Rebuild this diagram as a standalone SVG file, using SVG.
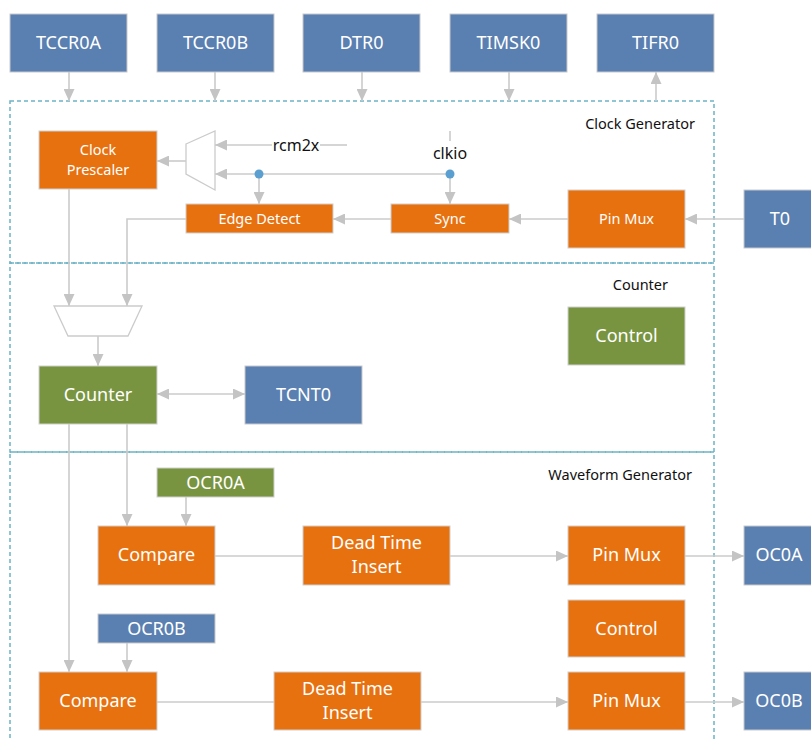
<svg xmlns="http://www.w3.org/2000/svg" width="811" height="740" viewBox="0 0 811 740">
<defs>
<style>
.blue{fill:#5a7fb1;stroke:#c9c9c9;stroke-width:1}
.orange{fill:#e8710f;stroke:#d0d0d0;stroke-width:1}
.green{fill:#799440;stroke:#d0d0d0;stroke-width:1}
.t{font-family:"Noto Sans","Open Sans",sans-serif;fill:#ffffff;text-anchor:middle;font-size:18px}
.ts{font-family:"Noto Sans","Open Sans",sans-serif;fill:#ffffff;text-anchor:middle;font-size:14.5px}
.lbl{font-family:"Noto Sans","Open Sans",sans-serif;fill:#111111;font-size:14px}
.region{fill:none;stroke:#6cb3c6;stroke-width:1.5;stroke-dasharray:4 3}
.c{fill:none;stroke:#cbcbcb;stroke-width:1.6}
.a{fill:none;stroke:#cbcbcb;stroke-width:1.6;marker-end:url(#ah)}
.mux{fill:#ffffff;stroke:#cbcbcb;stroke-width:1.3}
</style>
<marker id="ah" viewBox="0 0 12 11" refX="12" refY="5.5" markerWidth="12" markerHeight="11" markerUnits="userSpaceOnUse" orient="auto-start-reverse">
<path d="M0,0 L12,5.5 L0,11 z" fill="#c4c4c4"/>
</marker>
</defs>

<g id="regions">
<rect class="region" x="10" y="101" width="704" height="162"/>
<rect class="region" x="10" y="263" width="704" height="189"/>
<rect class="region" x="10" y="452" width="704" height="300"/>
<text class="lbl" x="695" y="129" text-anchor="end" style="font-size:14.5px">Clock Generator</text>
<text class="lbl" x="668" y="290" text-anchor="end" style="font-size:14.5px">Counter</text>
<text class="lbl" x="692" y="480" text-anchor="end" style="font-size:14.5px">Waveform Generator</text>
</g>

<g id="connectors">
<line class="a" x1="69" y1="72" x2="69" y2="101"/>
<line class="a" x1="215" y1="72" x2="215" y2="101"/>
<line class="a" x1="362" y1="72" x2="362" y2="101"/>
<line class="a" x1="509" y1="72" x2="509" y2="101"/>
<line class="a" x1="656" y1="101" x2="656" y2="72"/>
<line class="a" x1="186" y1="161" x2="157" y2="161"/>
<line class="c" x1="347" y1="145" x2="320" y2="145"/>
<line class="a" x1="272" y1="145" x2="215" y2="145"/>
<line class="a" x1="450" y1="174" x2="215" y2="174"/>
<line class="c" x1="450" y1="131" x2="450" y2="141"/>
<line class="a" x1="450" y1="174" x2="450" y2="204"/>
<line class="a" x1="259" y1="174" x2="259" y2="204"/>
<line class="a" x1="744" y1="219" x2="685" y2="219"/>
<line class="a" x1="568" y1="219" x2="509" y2="219"/>
<line class="a" x1="391" y1="219" x2="333" y2="219"/>
<polyline class="a" points="186,219 127,219 127,306"/>
<line class="a" x1="69" y1="189" x2="69" y2="306"/>
<line class="a" x1="98" y1="336" x2="98" y2="366"/>
<line class="a" x1="157" y1="394" x2="245" y2="394" style="marker-start:url(#ah)"/>
<line class="a" x1="127" y1="424" x2="127" y2="526"/>
<line class="a" x1="69" y1="424" x2="69" y2="672"/>
<line class="a" x1="186" y1="497" x2="186" y2="526"/>
<line class="a" x1="127" y1="643" x2="127" y2="672"/>
<line class="c" x1="215" y1="556" x2="303" y2="556"/>
<line class="a" x1="450" y1="556" x2="568" y2="556"/>
<line class="a" x1="685" y1="556" x2="744" y2="556"/>
<line class="c" x1="157" y1="702" x2="274" y2="702"/>
<line class="a" x1="421" y1="702" x2="568" y2="702"/>
<line class="a" x1="685" y1="702" x2="744" y2="702"/>
<circle cx="259" cy="174" r="4.5" fill="#5b9fd0"/>
<circle cx="450" cy="174" r="4.5" fill="#5b9fd0"/>
<text class="lbl" x="296" y="151" text-anchor="middle" style="font-size:16px">rcm2x</text>
<text class="lbl" x="450" y="159" text-anchor="middle" style="font-size:16px">clkio</text>
</g>

<g id="mux-clock"><polygon class="mux" points="186,144 215,131 215,190 186,174"/></g>
<g id="mux-counter"><polygon class="mux" points="54,306 142,306 128,336 68,336"/></g>

<g id="TCCR0A"><rect class="blue" x="10" y="14" width="117" height="58"/><text class="t" x="68.5" y="49">TCCR0A</text></g>
<g id="TCCR0B"><rect class="blue" x="157" y="14" width="117" height="58"/><text class="t" x="215.5" y="49">TCCR0B</text></g>
<g id="DTR0"><rect class="blue" x="303" y="14" width="117" height="58"/><text class="t" x="361.5" y="49">DTR0</text></g>
<g id="TIMSK0"><rect class="blue" x="450" y="14" width="117" height="58"/><text class="t" x="508.5" y="49">TIMSK0</text></g>
<g id="TIFR0"><rect class="blue" x="597" y="14" width="117" height="58"/><text class="t" x="655.5" y="49">TIFR0</text></g>

<g id="ClockPrescaler"><rect class="orange" x="39" y="131" width="118" height="58"/><text class="ts" x="98" y="155">Clock</text><text class="ts" x="98" y="175">Prescaler</text></g>
<g id="EdgeDetect"><rect class="orange" x="186" y="204" width="147" height="29"/><text class="ts" x="259.5" y="224">Edge Detect</text></g>
<g id="Sync"><rect class="orange" x="391" y="204" width="118" height="29"/><text class="ts" x="450" y="224">Sync</text></g>
<g id="PinMuxClk"><rect class="orange" x="568" y="190" width="117" height="58"/><text class="ts" x="626.5" y="224">Pin Mux</text></g>
<g id="T0"><rect class="blue" x="744" y="190" width="80" height="58"/><text class="t" x="780" y="225">T0</text></g>

<g id="Counter"><rect class="green" x="39" y="366" width="118" height="58"/><text class="t" x="98" y="401">Counter</text></g>
<g id="TCNT0"><rect class="blue" x="245" y="366" width="117" height="58"/><text class="t" x="303.5" y="401">TCNT0</text></g>
<g id="ControlCounter"><rect class="green" x="568" y="307" width="117" height="58"/><text class="t" x="626.5" y="342">Control</text></g>

<g id="OCR0A"><rect class="green" x="157" y="468" width="117" height="29"/><text class="t" x="215.5" y="489">OCR0A</text></g>
<g id="CompareA"><rect class="orange" x="98" y="526" width="117" height="59"/><text class="t" x="156.5" y="561">Compare</text></g>
<g id="DeadTimeA"><rect class="orange" x="303" y="526" width="147" height="59"/><text class="t" x="376.5" y="549">Dead Time</text><text class="t" x="376.5" y="573">Insert</text></g>
<g id="PinMuxA"><rect class="orange" x="568" y="526" width="117" height="59"/><text class="t" x="626.5" y="561">Pin Mux</text></g>
<g id="OC0A"><rect class="blue" x="744" y="526" width="80" height="59"/><text class="t" x="779" y="561">OC0A</text></g>

<g id="ControlWave"><rect class="orange" x="568" y="600" width="117" height="57"/><text class="t" x="626.5" y="635">Control</text></g>

<g id="OCR0B"><rect class="blue" x="98" y="614" width="117" height="29"/><text class="t" x="156.5" y="635">OCR0B</text></g>
<g id="CompareB"><rect class="orange" x="39" y="672" width="118" height="58"/><text class="t" x="98" y="707">Compare</text></g>
<g id="DeadTimeB"><rect class="orange" x="274" y="672" width="147" height="58"/><text class="t" x="347.5" y="695">Dead Time</text><text class="t" x="347.5" y="719">Insert</text></g>
<g id="PinMuxB"><rect class="orange" x="568" y="672" width="117" height="58"/><text class="t" x="626.5" y="707">Pin Mux</text></g>
<g id="OC0B"><rect class="blue" x="744" y="672" width="80" height="58"/><text class="t" x="779" y="707">OC0B</text></g>
</svg>
